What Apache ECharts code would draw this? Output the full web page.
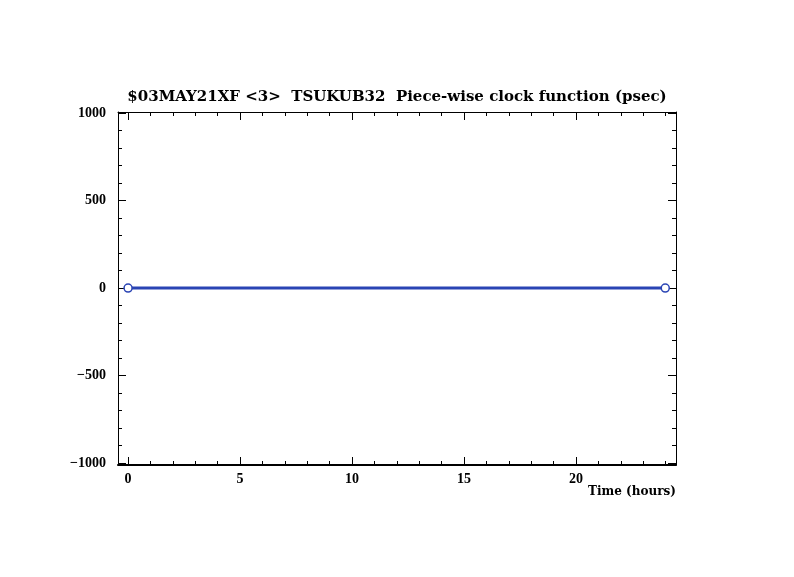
<!DOCTYPE html>
<html>
<head>
<meta charset="utf-8">
<script src="https://cdn.jsdelivr.net/npm/echarts@6/dist/echarts.min.js"></script>
<style>html,body{margin:0;padding:0;background:#fff}#c{width:794px;height:577px}</style>
</head>
<body>
<div id="c"></div>
<script>
const titleText = "$03MAY21XF <3>  TSUKUB32  Piece-wise clock function (psec)";
const xLabelText = "Time (hours)";
const timeHours = [0, 23.98];
const clockPsec = [0, 0];
const xMajorTicks = [0, 5, 10, 15, 20];
const xMinorTicks = [0,1,2,3,4,5,6,7,8,9,10,11,12,13,14,15,16,17,18,19,20,21,22,23,24];
const yMajorTicks = [-1000, -500, 0, 500, 1000];
const yMinorTicks = [-1000,-900,-800,-700,-600,-500,-400,-300,-200,-100,0,100,200,300,400,500,600,700,800,900,1000];
const xRange = [-0.45, 24.46];
const yRange = [-1011, 1006];

const font = "'Liberation Serif', 'DejaVu Serif', serif";
const titleFont = "'DejaVu Serif', serif";
const lineStyle = {color: '#000', width: 1};

function xAxis(pos, ticks, len, showLabel, showLine, lineW) {
  return {
    type: 'value', position: pos, min: xRange[0], max: xRange[1],
    axisLine: {show: showLine, onZero: false, lineStyle: {color: '#000', width: lineW || 1}},
    axisTick: {show: true, inside: true, length: len, customValues: ticks, lineStyle: lineStyle},
    axisLabel: {show: showLabel, customValues: xMajorTicks, margin: 7, color: '#000',
      fontFamily: font, fontWeight: 'bold', fontSize: 14},
    splitLine: {show: false}
  };
}
function yAxis(pos, ticks, len, showLabel, showLine) {
  return {
    type: 'value', position: pos, min: yRange[0], max: yRange[1],
    axisLine: {show: showLine, onZero: false, lineStyle: {color: '#000', width: 1}},
    axisTick: {show: true, inside: true, length: len, customValues: ticks, lineStyle: lineStyle},
    axisLabel: {show: showLabel, customValues: yMajorTicks, margin: 12, color: '#000',
      fontFamily: font, fontWeight: 'bold', fontSize: 14,
      formatter: v => (v < 0 ? '\u2212' + Math.abs(v) : String(v))},
    splitLine: {show: false}
  };
}

const chart = echarts.init(document.getElementById('c'), null, {renderer: 'canvas'});
chart.setOption({
  animation: false,
  backgroundColor: '#fff',
  title: [
    {text: titleText, left: 'center', top: 90, padding: 0,
      textStyle: {fontFamily: titleFont, fontWeight: 'bold', fontSize: 15, color: '#000'}},
    {text: xLabelText, right: 118, top: 486, padding: 0,
      textStyle: {fontFamily: titleFont, fontWeight: 'bold', fontSize: 12, color: '#000'}}
  ],
  grid: {left: 118, right: 118, top: 112, bottom: 112, containLabel: false},
  xAxis: [
    xAxis('bottom', xMajorTicks, 8, true, true, 2),
    xAxis('bottom', xMinorTicks, 4, false, false),
    xAxis('top', xMajorTicks, 8, false, true),
    xAxis('top', xMinorTicks, 4, false, false)
  ],
  yAxis: [
    yAxis('left', yMajorTicks, 8, true, true),
    yAxis('left', yMinorTicks, 4, false, false),
    yAxis('right', yMajorTicks, 8, false, true),
    yAxis('right', yMinorTicks, 4, false, false)
  ],
  series: [{
    type: 'line', xAxisIndex: 0, yAxisIndex: 0,
    data: timeHours.map((t, i) => [t, clockPsec[i]]),
    symbol: 'circle', symbolSize: 8, showSymbol: true,
    lineStyle: {color: '#2a44b4', width: 3},
    itemStyle: {color: '#fff', borderColor: '#2a44b4', borderWidth: 1.5},
    z: 3
  }]
});
</script>
</body>
</html>
